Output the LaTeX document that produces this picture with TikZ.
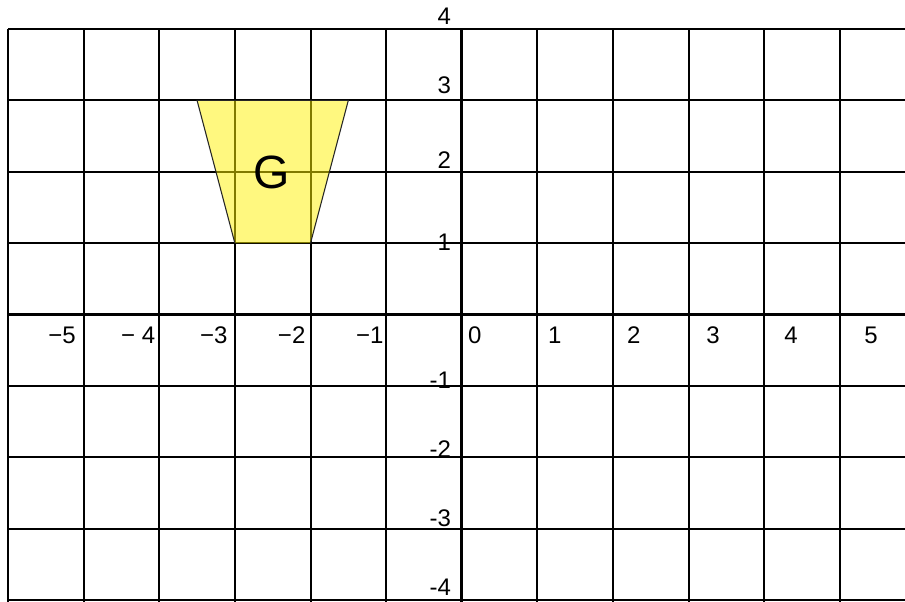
\documentclass[tikz,border=0pt]{standalone}
\usepackage{fontspec}
\setmainfont{Liberation Sans}
\begin{document}
\begin{tikzpicture}[x=56.73pt,y=53.55pt,
  gridline/.style={line width=1.5pt,black},
  axisline/.style={line width=2.5pt,black},
  shapefill/.style={fill=yellow,fill opacity=0.5},
  shapeedge/.style={line width=0.8pt,black!85},
  tick/.style={inner sep=0pt,font=\fontsize{18}{18}\selectfont},
  ylab/.style={tick,anchor=east},
  biglab/.style={inner sep=0pt,font=\fontsize{35}{35}\selectfont}]
\useasboundingbox[fill=white] (-6.105,-4.013) rectangle (5.859,4.405);
% grid
\foreach \i in {-6,...,5} {\draw[gridline] (\i,4) -- (\i,-4.1);}
\foreach \j in {-4,...,4} {\draw[gridline] (-6,\j) -- (6,\j);}
\draw[axisline] (-6,0) -- (6,0);
\draw[axisline] (0,4) -- (0,-4.1);
% trapezoid G
\coordinate (p1) at (-3.5,3);
\coordinate (p2) at (-1.5,3);
\coordinate (p3) at (-2,1);
\coordinate (p4) at (-3,1);
\fill[shapefill] (p1) -- (p2) -- (p3) -- (p4) -- cycle;
\draw[shapeedge] (p4) -- (p1) -- (p2) -- (p3);
\node[biglab] (g) at (-2.520,1.993) {G};
% x labels
\node[tick] (xm5) at (-5.284,-0.294) {−5};
\node[tick] (xm4) at (-4.279,-0.294) {− 4};
\node[tick] (xm3) at (-3.280,-0.294) {−3};
\node[tick] (xm2) at (-2.249,-0.294) {−2};
\node[tick] (xm1) at (-1.217,-0.294) {−1};
\node[tick] (x0) at (0.172,-0.294) {0};
\node[tick] (x1) at (1.230,-0.294) {1};
\node[tick] (x2) at (2.275,-0.294) {2};
\node[tick] (x3) at (3.320,-0.294) {3};
\node[tick] (x4) at (4.352,-0.294) {4};
\node[tick] (x5) at (5.410,-0.294) {5};
% y labels
\node[ylab] (y4) at (-0.14,4.181) {4};
\node[ylab] (y3) at (-0.14,3.214) {3};
\node[ylab] (y2) at (-0.14,2.164) {2};
\node[ylab] (y1) at (-0.14,1.015) {1};
\node[ylab] (ym1) at (-0.14,-0.917) {-1};
\node[ylab] (ym2) at (-0.14,-1.884) {-2};
\node[ylab] (ym3) at (-0.14,-2.850) {-3};
\node[ylab] (ym4) at (-0.14,-3.816) {-4};
\end{tikzpicture}
\end{document}
